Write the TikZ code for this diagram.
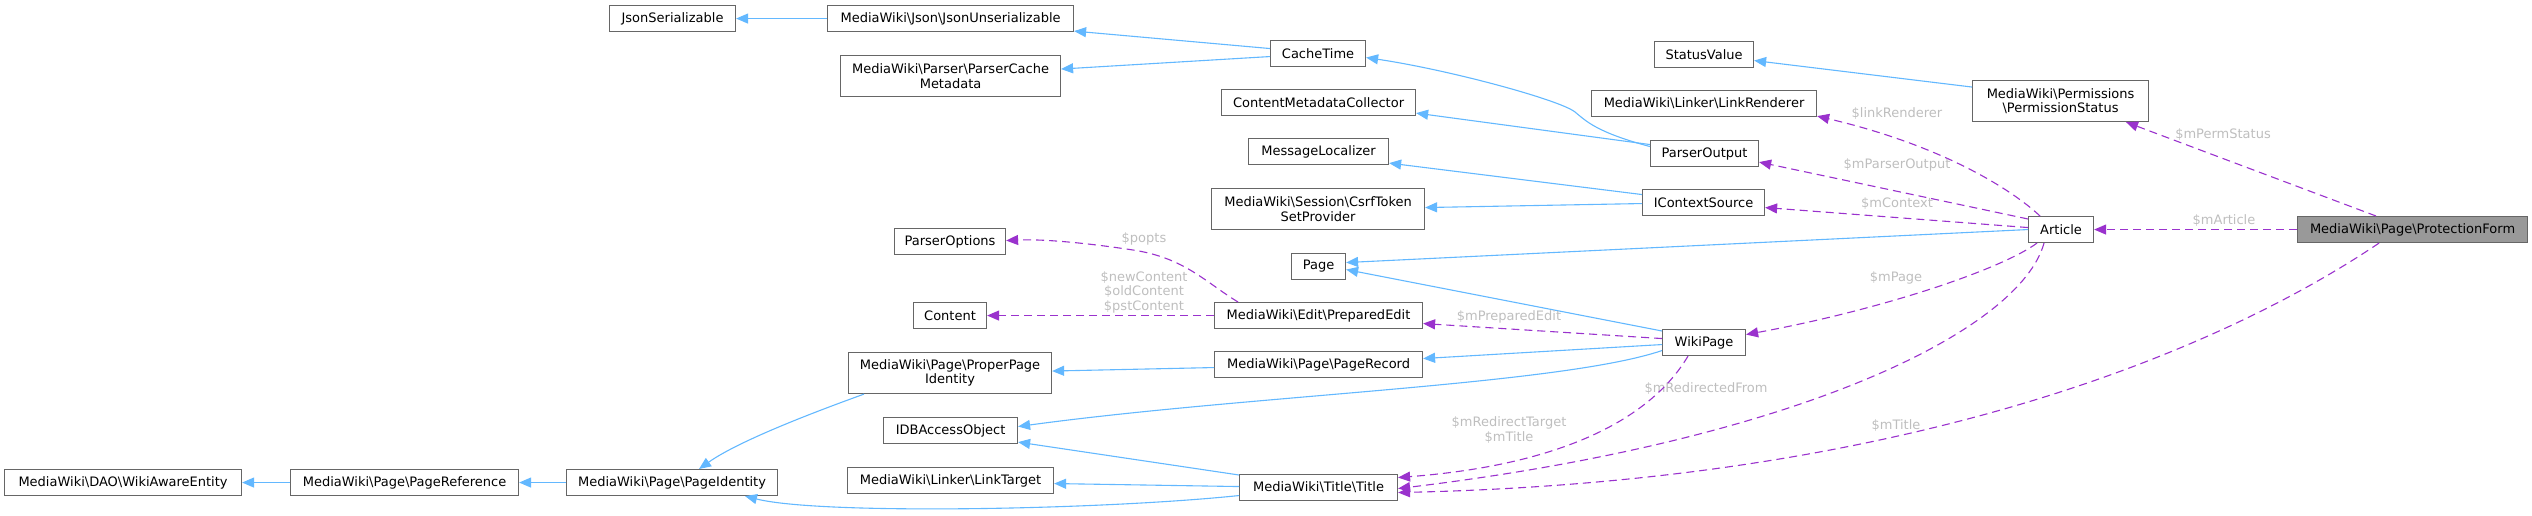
\documentclass[tikz,border=0pt]{standalone}
\usepackage{fontspec}
\newfontfamily\dv{DejaVu Sans}
\usetikzlibrary{arrows.meta}
\newcommand\bsl{\textbackslash}
\definecolor{inhblue}{RGB}{99,184,255}
\definecolor{usepurple}{RGB}{154,50,205}
\definecolor{boxline}{RGB}{102,102,102}
\definecolor{lblgray}{RGB}{190,190,190}
\definecolor{pffill}{RGB}{153,153,153}
\begin{document}
\begin{tikzpicture}[x=1pt,y=-1pt,
  box/.style={draw=boxline,fill=white,line width=1.1pt,inner sep=0pt,anchor=north west,
    align=center,font=\dv\fontsize{13}{14.5}\selectfont},
  inh/.style={draw=inhblue,line width=1.1pt,-{Triangle[length=12pt,width=10pt]}},
  use/.style={draw=usepurple,line width=1.1pt,dash pattern=on 8pt off 5pt,-{Triangle[length=12pt,width=10pt]}},
  lbl/.style={text=lblgray,inner sep=0pt,align=center,font=\dv\fontsize{13}{14.5}\selectfont}]
\useasboundingbox (0,0) rectangle (2532,516);
% nodes
\node[box,minimum width=126pt,minimum height=26pt] (js) at (609,5) {JsonSerializable};
\node[box,minimum width=246pt,minimum height=26pt] (ju) at (827,5) {MediaWiki\bsl Json\bsl JsonUnserializable};
\node[box,minimum width=220pt,minimum height=41pt] (pcm) at (840,55) {MediaWiki\bsl Parser\bsl ParserCache\\Metadata};
\node[box,minimum width=95pt,minimum height=26pt] (ct) at (1270,40) {CacheTime};
\node[box,minimum width=194pt,minimum height=26pt] (cmc) at (1221,89) {ContentMetadataCollector};
\node[box,minimum width=140pt,minimum height=26pt] (ml) at (1248,138) {MessageLocalizer};
\node[box,minimum width=213pt,minimum height=41pt] (csrf) at (1211,188) {MediaWiki\bsl Session\bsl CsrfToken\\SetProvider};
\node[box,minimum width=111pt,minimum height=26pt] (popt) at (894,228) {ParserOptions};
\node[box,minimum width=54pt,minimum height=26pt] (page) at (1291,253) {Page};
\node[box,minimum width=73pt,minimum height=26pt] (content) at (913,302) {Content};
\node[box,minimum width=208pt,minimum height=26pt] (pe) at (1214,302) {MediaWiki\bsl Edit\bsl PreparedEdit};
\node[box,minimum width=203pt,minimum height=41pt] (ppi) at (848,352) {MediaWiki\bsl Page\bsl ProperPage\\Identity};
\node[box,minimum width=208pt,minimum height=26pt] (pr) at (1214,351) {MediaWiki\bsl Page\bsl PageRecord};
\node[box,minimum width=134pt,minimum height=26pt] (idb) at (883,417) {IDBAccessObject};
\node[box,minimum width=206pt,minimum height=26pt] (lt) at (847,467) {MediaWiki\bsl Linker\bsl LinkTarget};
\node[box,minimum width=158pt,minimum height=26pt] (title) at (1239,474) {MediaWiki\bsl Title\bsl Title};
\node[box,minimum width=237pt,minimum height=26pt] (wae) at (4,469) {MediaWiki\bsl DAO\bsl WikiAwareEntity};
\node[box,minimum width=228pt,minimum height=26pt] (pref) at (290,469) {MediaWiki\bsl Page\bsl PageReference};
\node[box,minimum width=211pt,minimum height=26pt] (pid) at (566,469) {MediaWiki\bsl Page\bsl PageIdentity};
\node[box,minimum width=99pt,minimum height=26pt] (sv) at (1654,41) {StatusValue};
\node[box,minimum width=225pt,minimum height=26pt] (lr) at (1591,90) {MediaWiki\bsl Linker\bsl LinkRenderer};
\node[box,minimum width=108pt,minimum height=26pt] (po) at (1650,140) {ParserOutput};
\node[box,minimum width=122pt,minimum height=26pt] (ics) at (1642,189) {IContextSource};
\node[box,minimum width=83pt,minimum height=26pt] (wp) at (1662,329) {WikiPage};
\node[box,minimum width=176pt,minimum height=41pt] (ps) at (1972,80) {MediaWiki\bsl Permissions\\\bsl PermissionStatus};
\node[box,minimum width=65pt,minimum height=26pt] (art) at (2028,216) {Article};
\node[box,fill=pffill,minimum width=230pt,minimum height=26pt] (pf) at (2297,216) {MediaWiki\bsl Page\bsl ProtectionForm};
% inheritance
\draw[inh] (ju.west) -- (js.east);
\draw[inh] ([yshift=5pt]ct.west) -- ([yshift=1pt]ju.south east);
\draw[inh] ([yshift=-3pt]ct.west) -- ([yshift=7pt]pcm.east);
\draw[inh] ([yshift=7pt]po.west) .. controls (1595,132) and (1585,120) .. (1575,112)
  .. controls (1560,100) and (1450,70) .. ([yshift=-4pt]ct.east);
\draw[inh] ([yshift=9pt]po.west) -- ([yshift=3pt]cmc.south east);
\draw[inh] ([yshift=8pt]ics.west) -- ([yshift=2pt]ml.south east);
\draw[inh] ([yshift=-1pt]ics.west) -- ([yshift=1.5pt]csrf.east);
\draw[inh] (art.west) -- ([yshift=4pt]page.east);
\draw[inh] ([yshift=-2pt]wp.north west) -- ([yshift=-3pt]page.east);
\draw[inh] ([yshift=-2pt]wp.west) -- ([yshift=6pt]pr.east);
\draw[inh] ([yshift=-8pt]wp.west) .. controls (1560,385) and (1250,395) .. ([yshift=4pt]idb.east);
\draw[inh] ([yshift=-3pt]pr.west) -- ([yshift=2pt]ppi.east);
\draw[inh] ([xshift=16pt]ppi.south west) .. controls (820,410) and (740,440) .. ([xshift=133pt]pid.north west);
\draw[inh] ([yshift=-1pt]title.north west) -- ([yshift=2pt]idb.south east);
\draw[inh] ([yshift=1pt]title.west) -- ([yshift=-3pt]lt.east);
\draw[inh] ([yshift=-8pt]title.west) .. controls (1100,510) and (820,515) .. ([xshift=179pt]pid.south west);
\draw[inh] (pref.west) -- (wae.east);
\draw[inh] (pid.west) -- (pref.east);
\draw[inh] ([yshift=14pt]ps.west) -- ([yshift=-6pt]sv.east);
% usage
\draw[use] ([xshift=79pt]pf.north west) -- ([xshift=154pt]ps.south west);
\node[lbl] (l1) at (2223,135) {\$mPermStatus};
\draw[use] (pf.west) -- (art.east);
\node[lbl] (l2) at (2224,221) {\$mArticle};
\draw[use] ([xshift=12pt]art.north west) .. controls (2010,188) and (1940,145) .. ([yshift=1pt]lr.south east);
\node[lbl] (l3) at (1897,114) {\$linkRenderer};
\draw[use] ([yshift=-3pt]art.north west) -- ([yshift=5pt]po.south east);
\node[lbl] (l4) at (1897,165) {\$mParserOutput};
\draw[use] ([yshift=2pt]art.west) -- ([yshift=-5pt]ics.east);
\node[lbl] (l5) at (1897,204) {\$mContext};
\draw[use] ([xshift=9pt]art.south west) .. controls (2000,270) and (1880,310) .. ([yshift=8pt]wp.east);
\node[lbl] (l6) at (1896,278) {\$mPage};
\draw[use] ([xshift=16pt]art.south west) .. controls (2020,330) and (1800,440) .. ([yshift=-1pt]title.east);
\node[lbl] (l7) at (1706,389) {\$mRedirectedFrom};
\draw[use] ([xshift=26pt]wp.south west) .. controls (1650,420) and (1560,465) .. ([yshift=10pt]title.east);
\node[lbl] (l8) at (1509,430) {\$mRedirectTarget\\\$mTitle};
\draw[use] ([xshift=82pt]pf.south west) .. controls (2250,330) and (1950,480) .. ([yshift=-5pt]title.east);
\node[lbl] (l9) at (1896,426) {\$mTitle};
\draw[use] ([yshift=4pt]wp.west) -- ([yshift=-8pt]pe.east);
\node[lbl] (l10) at (1509,317) {\$mPreparedEdit};
\draw[use] ([xshift=24pt]pe.north west) .. controls (1205,282) and (1185,258) .. (1133,250)
  .. controls (1080,242) and (1040,239) .. ([yshift=1pt]popt.east);
\node[lbl] (l11) at (1144,239) {\$popts};
\draw[use] (pe.west) -- (content.east);
\node[lbl] (l12) at (1144,292) {\$newContent\\\$oldContent\\\$pstContent};
\end{tikzpicture}
\end{document}
